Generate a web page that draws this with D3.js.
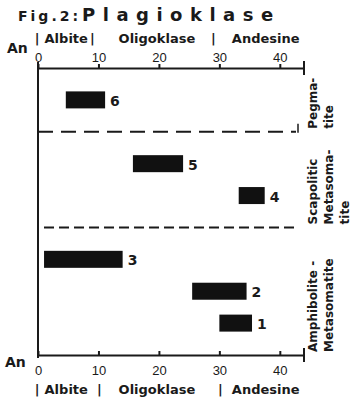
<!DOCTYPE html>
<html>
<head>
<meta charset="utf-8">
<script src="https://cdnjs.cloudflare.com/ajax/libs/d3/7.8.5/d3.min.js"></script>
<style>
  body { margin: 0; background: #fff; }
  svg { font-family: "DejaVu Sans", sans-serif; fill: #1a1a1a; }
  .tick text { font-size: 13px; fill: #1a1a1a; }
  .tick line { stroke: #1a1a1a; stroke-width: 2; }
  .field { font-size: 13px; font-weight: bold; }
  .an { font-size: 14px; font-weight: bold; }
  .grp { font-size: 12px; font-weight: bold; }
  .num { font-size: 14px; font-weight: bold; }
</style>
</head>
<body>
<svg></svg>
<script>
// samples, anorthite range (An %) of each, and the rock group they belong to
var samples = ["6", "5", "4", "3", "2", "1"];
var anFrom = [4.6, 15.7, 33.2, 1.0, 25.5, 30.0];
var anTo = [11.1, 24.0, 37.5, 14.0, 34.5, 35.4];
var sampleGroup = ["Pegmatite", "Scapolitic", "Scapolitic", "Amphibolite", "Amphibolite", "Amphibolite"];

var groupNames = ["Pegmatite", "Scapolitic", "Amphibolite"];
var groupLabels = [["Pegma-", "tite"], ["Scapolitic", "Metasoma-", "tite"], ["Amphibolite -", "Metasomatite"]];

var anTicks = [0, 10, 20, 30, 40];
var fields = ["Albite", "Oligoklase", "Andesine"];
var fieldFrom = [0, 10, 30];
var fieldTo = [10, 30, 46];

var screen = {width: 353, height: 401};
var plot = {left: 38, right: 304, top: 68, bottom: 355};

var svg = d3.select("svg")
    .attr("width", screen.width)
    .attr("height", screen.height);

var xScale = d3.scaleLinear()
    .domain([0, 44])
    .range([plot.left, plot.right]);

// vertical layout: every group gets one slot per sample plus one slot of padding
var slots = [];
var groupBottom = {};
var unitCount = 0;
groupNames.forEach(function(g) {
    var members = samples.filter(function(s, i) { return sampleGroup[i] == g; });
    members.forEach(function(s, i) { slots.push({sample: s, unit: unitCount + i + 1}); });
    unitCount += members.length + 1;
    groupBottom[g] = unitCount;
});

var yScale = d3.scaleLinear()
    .domain([0, unitCount])
    .range([plot.top, plot.bottom]);

var rowY = function(sample) {
    return yScale(slots.find(function(d) { return d.sample == sample; }).unit);
};

var barH = 17;

// title
var title = svg.append("text").attr("x", 18).attr("y", 21).style("font-weight", "bold");
title.append("tspan").text("Fig.2:").style("font-size", "14px").style("letter-spacing", "3px");
title.append("tspan").text("Plagioklase").style("font-size", "18px").style("letter-spacing", "7.5px").attr("dx", 1);

// axes
var drawAxis = function(axis, y, labelPad) {
    var g = svg.append("g")
        .attr("transform", "translate(0," + y + ")")
        .call(axis.tickValues(anTicks).tickSize(4).tickSizeOuter(0).tickPadding(labelPad));
    g.select(".domain").attr("stroke", "#1a1a1a").attr("stroke-width", 2);
    g.selectAll(".tick line").attr("y2", 0).attr("y1", -4);
    g.append("line")
        .attr("x1", plot.right).attr("x2", plot.right)
        .attr("y1", -7).attr("y2", 7)
        .attr("stroke", "#1a1a1a").attr("stroke-width", 2);
    return g;
};
drawAxis(d3.axisTop(xScale), plot.top, 2);
drawAxis(d3.axisBottom(xScale), plot.bottom, 7);

svg.append("line")
    .attr("x1", plot.left).attr("x2", plot.left)
    .attr("y1", plot.top - 6).attr("y2", plot.bottom + 3)
    .attr("stroke", "#1a1a1a").attr("stroke-width", 2);

// "An" labels
svg.append("text").classed("an", true).text("An").attr("x", 7).attr("y", 53);
svg.append("text").classed("an", true).text("An").attr("x", 5).attr("y", 367);

// plagioclase field names above and below, split by "|"
var drawFields = function(y, sepShift) {
    fields.forEach(function(f, i) {
        svg.append("text").classed("field", true)
            .text(f)
            .attr("text-anchor", "middle")
            .attr("x", xScale((fieldFrom[i] + fieldTo[i]) / 2) - 2)
            .attr("y", y);
        svg.append("text").classed("field", true)
            .text("|")
            .attr("text-anchor", "middle")
            .attr("x", xScale(fieldFrom[i]) + (i > 0 ? sepShift : -1))
            .attr("y", y);
    });
};
drawFields(43, -6);
drawFields(394, 1);

// group separators
var dashes = ["15,8", "10,5"];
groupNames.slice(0, -1).forEach(function(g, i) {
    var y = yScale(groupBottom[g]);
    svg.append("line")
        .attr("x1", plot.left + (i == 0 ? 0 : 6)).attr("x2", plot.right - 8)
        .attr("y1", y).attr("y2", y)
        .attr("stroke", "#1a1a1a").attr("stroke-width", 2)
        .attr("stroke-dasharray", dashes[i]);
});
svg.append("line")
    .attr("x1", plot.right - 6).attr("x2", plot.right - 6)
    .attr("y1", yScale(groupBottom["Pegmatite"]) - 8).attr("y2", yScale(groupBottom["Pegmatite"]) + 1)
    .attr("stroke", "#1a1a1a").attr("stroke-width", 1.5);

// bars
svg.append("g").selectAll("rect")
    .data(samples)
    .enter()
    .append("rect")
    .attr("x", function(s, i) { return xScale(anFrom[i]); })
    .attr("width", function(s, i) { return xScale(anTo[i]) - xScale(anFrom[i]); })
    .attr("y", function(s) { return rowY(s) - barH / 2; })
    .attr("height", barH)
    .attr("fill", "#111");

svg.append("g").selectAll("text")
    .data(samples)
    .enter()
    .append("text")
    .classed("num", true)
    .text(function(s) { return s; })
    .attr("x", function(s, i) { return xScale(anTo[i]) + 5; })
    .attr("y", function(s) { return rowY(s) + 6; });

// rotated group labels on the right
groupNames.forEach(function(g, gi) {
    var yb = yScale(groupBottom[g]) - 3;
    groupLabels[gi].forEach(function(line, li) {
        svg.append("text").classed("grp", true)
            .text(line)
            .attr("transform", "translate(" + (317 + li * 16) + "," + yb + ") rotate(-90)");
    });
});
</script>
</body>
</html>
